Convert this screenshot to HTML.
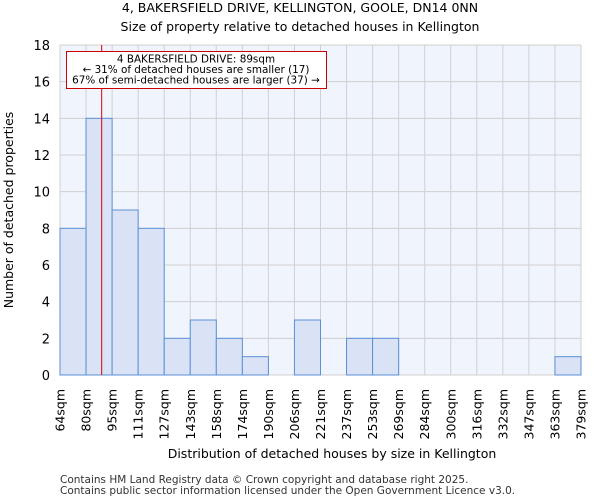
<!DOCTYPE html>
<html><head><meta charset="utf-8"><style>
body{margin:0;background:#fff;font-family:"DejaVu Sans","Liberation Sans",sans-serif}
</style></head><body>
<svg width="600" height="500" xmlns="http://www.w3.org/2000/svg" font-family="DejaVu Sans, Liberation Sans, sans-serif">
<text x="300" y="12" text-anchor="middle" font-size="12.5">4, BAKERSFIELD DRIVE, KELLINGTON, GOOLE, DN14 0NN</text>
<text x="300" y="31" text-anchor="middle" font-size="12.5">Size of property relative to detached houses in Kellington</text>
<rect x="60" y="45" width="521" height="330" fill="#f0f4fc"/>
<g id="grid"></g><g id="bars"></g><g id="axes"></g>
<text x="332" y="458" text-anchor="middle" font-size="12.5">Distribution of detached houses by size in Kellington</text>
<text transform="translate(13,210) rotate(-90)" text-anchor="middle" font-size="12.5">Number of detached properties</text>
<text x="60" y="483" font-size="10.5" fill="#333">Contains HM Land Registry data © Crown copyright and database right 2025.</text>
<text x="60" y="494" font-size="10.5" fill="#333">Contains public sector information licensed under the Open Government Licence v3.0.</text>
<g id="annot"></g>
</svg>
<script>
const categories=["64sqm","80sqm","95sqm","111sqm","127sqm","143sqm","158sqm","174sqm","190sqm","206sqm","221sqm","237sqm","253sqm","269sqm","284sqm","300sqm","316sqm","332sqm","347sqm","363sqm","379sqm"];
const counts=[8,14,9,8,2,3,2,1,0,3,0,2,2,0,0,0,0,0,0,1];
const yTicks=[0,2,4,6,8,10,12,14,16,18];
const propertyIndex=1+9/15;
const NS="http://www.w3.org/2000/svg";
const L=60,R=581,T=45,B=375,nb=counts.length,bw=(R-L)/nb;
const xs=i=>L+i*bw, ys=v=>B-(v/18)*(B-T);
function mk(t,a,p){const e=document.createElementNS(NS,t);for(const k in a)e.setAttribute(k,a[k]);p.appendChild(e);return e;}
const grid=document.getElementById('grid'),bars=document.getElementById('bars'),axes=document.getElementById('axes'),ann=document.getElementById('annot');
for(let i=0;i<=nb;i++){const l=mk('line',{x1:xs(i),x2:xs(i),y1:T,y2:B,stroke:'#d0d0d0','stroke-width':1},grid);

}
yTicks.forEach(v=>{const l=mk('line',{x1:L,x2:R,y1:ys(v),y2:ys(v),stroke:'#d0d0d0','stroke-width':1},grid);


const t=mk('text',{x:L-10,y:ys(v)+5,'text-anchor':'end','font-size':13},axes);t.textContent=v;

});
counts.forEach((c,i)=>{if(c<=0)return;const r=mk('rect',{x:xs(i),y:ys(c),width:bw,height:B-ys(c),fill:'#d9e3f5',stroke:'#5b8fd6','stroke-width':1},bars);

});
categories.forEach((c,i)=>{const t=mk('text',{transform:`translate(${xs(i)+4.5},389) rotate(-90)`,'text-anchor':'end','font-size':12.5},axes);t.textContent=c;

});
const px=xs(propertyIndex);
const pl=mk('line',{x1:px,x2:px,y1:T,y2:B,stroke:'#dd0000','stroke-width':1},ann);


const bx=mk('rect',{x:66.5,y:51.5,width:260,height:37,fill:'#fff',stroke:'#cc0000','stroke-width':1},ann);


["4 BAKERSFIELD DRIVE: 89sqm","← 31% of detached houses are smaller (17)","67% of semi-detached houses are larger (37) →"].forEach((s,k)=>{const t=mk('text',{x:196,y:62.5+k*10.5,'text-anchor':'middle','font-size':10.4},ann);t.textContent=s;

});
</script>
</body></html>
